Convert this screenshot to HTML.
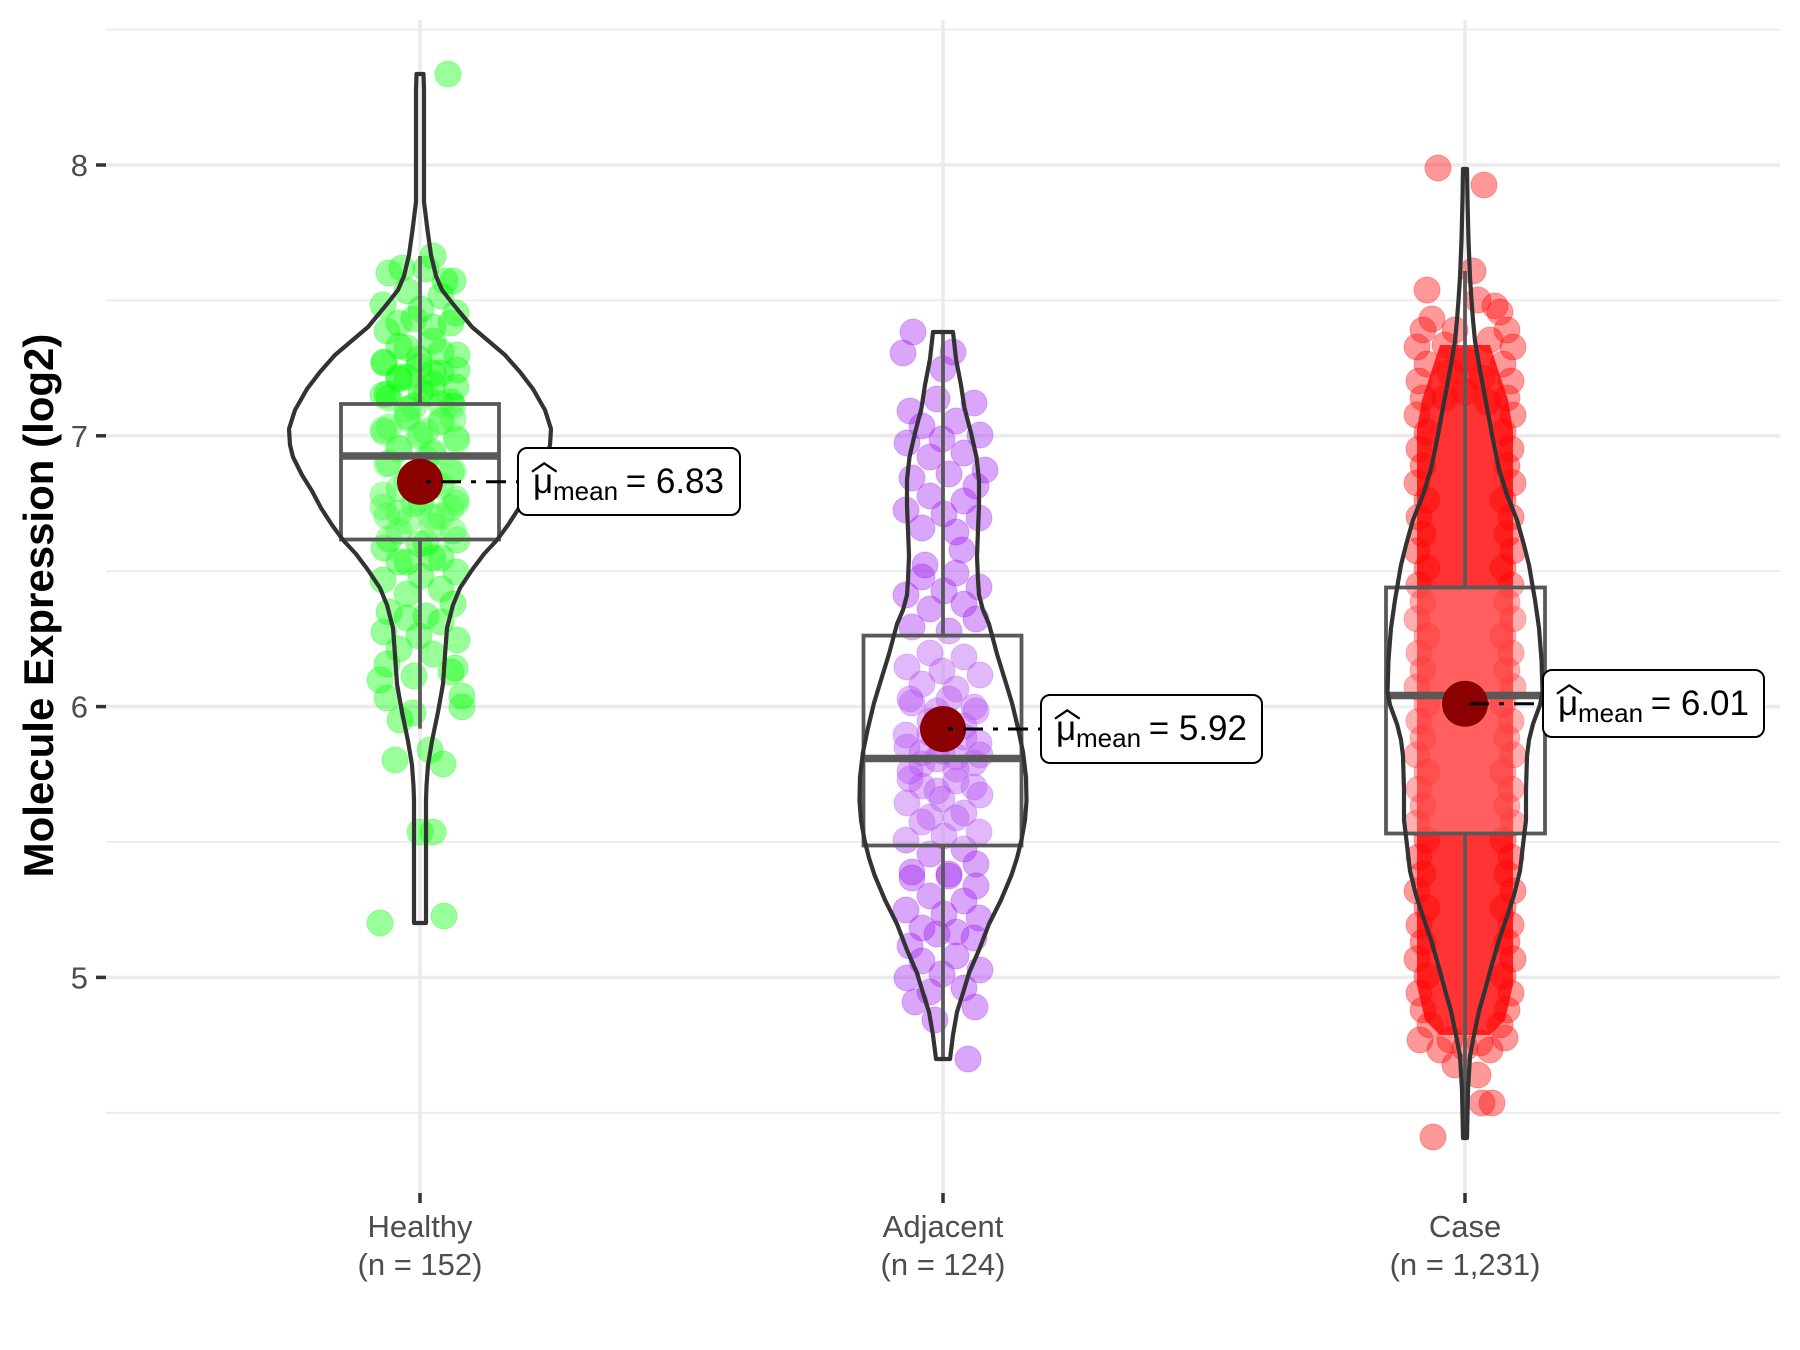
<!DOCTYPE html>
<html>
<head>
<meta charset="utf-8">
<style>
html,body{margin:0;padding:0;background:#fff;}
svg{display:block;}
</style>
</head>
<body>
<svg width="1800" height="1350" viewBox="0 0 1800 1350" xmlns="http://www.w3.org/2000/svg" xmlns:xlink="http://www.w3.org/1999/xlink" font-family="'Liberation Sans', Arial, sans-serif">
<defs>
  <g id="cg" fill="#00FF00" fill-opacity="0.4" stroke="#00FF00" stroke-opacity="0.3" stroke-width="1">
    <circle cx="-31" cy="-27" r="13"/><circle cx="6" cy="-31" r="13"/><circle cx="33" cy="-19" r="13"/>
    <circle cx="-13" cy="-9" r="13"/><circle cx="21" cy="-4" r="13"/><circle cx="-37" cy="5" r="13"/>
    <circle cx="1" cy="9" r="13"/><circle cx="36" cy="13" r="13"/><circle cx="-21" cy="23" r="13"/>
    <circle cx="13" cy="27" r="13"/>
  </g>
  <g id="cp" fill="#A020F0" fill-opacity="0.4" stroke="#A020F0" stroke-opacity="0.3" stroke-width="1">
    <circle cx="-31" cy="-27" r="13"/><circle cx="6" cy="-31" r="13"/><circle cx="33" cy="-19" r="13"/>
    <circle cx="-13" cy="-9" r="13"/><circle cx="21" cy="-4" r="13"/><circle cx="-37" cy="5" r="13"/>
    <circle cx="1" cy="9" r="13"/><circle cx="36" cy="13" r="13"/><circle cx="-21" cy="23" r="13"/>
    <circle cx="13" cy="27" r="13"/>
  </g>
</defs>
<rect width="1800" height="1350" fill="#ffffff"/>
<!-- grid -->
<g stroke="#EBEBEB" fill="none">
  <line x1="106" x2="1780" y1="29.6" y2="29.6" stroke-width="1.8"/>
  <line x1="106" x2="1780" y1="300.4" y2="300.4" stroke-width="1.8"/>
  <line x1="106" x2="1780" y1="571.2" y2="571.2" stroke-width="1.8"/>
  <line x1="106" x2="1780" y1="842" y2="842" stroke-width="1.8"/>
  <line x1="106" x2="1780" y1="1112.8" y2="1112.8" stroke-width="1.8"/>
  <line x1="106" x2="1780" y1="165" y2="165" stroke-width="3.5"/>
  <line x1="106" x2="1780" y1="435.8" y2="435.8" stroke-width="3.5"/>
  <line x1="106" x2="1780" y1="706.6" y2="706.6" stroke-width="3.5"/>
  <line x1="106" x2="1780" y1="977.4" y2="977.4" stroke-width="3.5"/>
  <line x1="420" x2="420" y1="20" y2="1193" stroke-width="3.5"/>
  <line x1="943" x2="943" y1="20" y2="1193" stroke-width="3.5"/>
  <line x1="1465" x2="1465" y1="20" y2="1193" stroke-width="3.5"/>
</g>

<!-- Healthy points -->
<use xlink:href="#cg" href="#cg" transform="translate(420,300)"/>
<use xlink:href="#cg" href="#cg" transform="translate(420,350) scale(-1,1)"/>
<use xlink:href="#cg" href="#cg" transform="translate(420,400) scale(1,-1)"/>
<use xlink:href="#cg" href="#cg" transform="translate(420,445) scale(-1,-1)"/>
<use xlink:href="#cg" href="#cg" transform="translate(420,490)"/>
<use xlink:href="#cg" href="#cg" transform="translate(420,535) scale(-1,1)"/>
<use xlink:href="#cg" href="#cg" transform="translate(420,585) scale(1,-1)"/>
<use xlink:href="#cg" href="#cg" transform="translate(420,645) scale(-1,-1)"/>
<use xlink:href="#cg" href="#cg" transform="translate(420,425)"/>
<use xlink:href="#cg" href="#cg" transform="translate(420,375) scale(-1,-1)"/>
<use xlink:href="#cg" href="#cg" transform="translate(420,512) scale(1,-1)"/>
<g fill="#00FF00" fill-opacity="0.4" stroke="#00FF00" stroke-opacity="0.3" stroke-width="1">
  <circle cx="448" cy="74" r="13"/><circle cx="380" cy="923" r="13"/><circle cx="444" cy="916" r="13"/>
  <circle cx="420" cy="832" r="13"/><circle cx="433" cy="832" r="13"/><circle cx="462" cy="696" r="13"/>
  <circle cx="462" cy="707" r="13"/><circle cx="387" cy="698" r="13"/><circle cx="443" cy="764" r="13"/>
  <circle cx="413" cy="713" r="13"/><circle cx="430" cy="750" r="13"/><circle cx="400" cy="720" r="13"/>
  <circle cx="395" cy="760" r="13"/><circle cx="380" cy="680" r="13"/><circle cx="455" cy="668" r="13"/>
  <circle cx="402" cy="268" r="13"/><circle cx="433" cy="256" r="13"/><circle cx="445" cy="281" r="13"/>
</g>

<!-- Adjacent points -->
<use xlink:href="#cp" href="#cp" transform="translate(943,430) scale(-1,1)"/>
<use xlink:href="#cp" href="#cp" transform="translate(943,505)"/>
<use xlink:href="#cp" href="#cp" transform="translate(943,600) scale(1,-1)"/>
<use xlink:href="#cp" href="#cp" transform="translate(943,680) scale(-1,-1)"/>
<use xlink:href="#cp" href="#cp" transform="translate(943,730)"/>
<use xlink:href="#cp" href="#cp" transform="translate(943,790) scale(-1,1)"/>
<use xlink:href="#cp" href="#cp" transform="translate(943,845) scale(1,-1)"/>
<use xlink:href="#cp" href="#cp" transform="translate(943,905)"/>
<use xlink:href="#cp" href="#cp" transform="translate(943,965) scale(-1,1)"/>
<use xlink:href="#cp" href="#cp" transform="translate(943,760) scale(-1,-1)"/>
<g fill="#A020F0" fill-opacity="0.4" stroke="#A020F0" stroke-opacity="0.3" stroke-width="1">
  <circle cx="913" cy="332" r="13"/><circle cx="903" cy="353" r="13"/><circle cx="953" cy="352" r="13"/>
  <circle cx="943" cy="369" r="13"/><circle cx="968" cy="1059" r="13"/><circle cx="915" cy="1002" r="13"/>
  <circle cx="975" cy="1007" r="13"/><circle cx="935" cy="1020" r="13"/><circle cx="962" cy="550" r="13"/>
  <circle cx="925" cy="565" r="13"/><circle cx="985" cy="470" r="13"/>
</g>

<!-- Case points -->
<path d="M1440,345 L1490,345 L1508,400 L1513,430 L1513,985 L1505,1020 L1490,1035 L1440,1035 L1425,1020 L1417,985 L1417,430 L1422,400 Z" fill="#FF3333"/>
<g fill="#FF0000" fill-opacity="0.4" stroke="#FF0000" stroke-opacity="0.3" stroke-width="1">
  <circle cx="1438" cy="168" r="13"/><circle cx="1484" cy="185" r="13"/><circle cx="1473" cy="271" r="13"/>
  <circle cx="1427" cy="290" r="13"/><circle cx="1432" cy="319" r="13"/><circle cx="1495" cy="306" r="13"/>
  <circle cx="1500" cy="312" r="13"/><circle cx="1478" cy="300" r="13"/><circle cx="1455" cy="330" r="13"/>
  <circle cx="1445" cy="345" r="13"/><circle cx="1490" cy="340" r="13"/><circle cx="1465" cy="360" r="13"/>
  <circle cx="1450" cy="372" r="13"/><circle cx="1482" cy="378" r="13"/><circle cx="1465" cy="392" r="13"/>
  <circle cx="1445" cy="398" r="13"/><circle cx="1488" cy="402" r="13"/>
  <circle cx="1433" cy="1137" r="13"/><circle cx="1482" cy="1103" r="13"/><circle cx="1492" cy="1103" r="13"/>
  <circle cx="1440" cy="1050" r="13"/><circle cx="1490" cy="1050" r="13"/><circle cx="1420" cy="1040" r="13"/>
  <circle cx="1505" cy="1038" r="13"/><circle cx="1455" cy="1065" r="13"/><circle cx="1478" cy="1075" r="13"/>
  <circle cx="1430" cy="1025" r="13"/><circle cx="1450" cy="1040" r="13"/><circle cx="1480" cy="1043" r="13"/>
  <circle cx="1465" cy="1048" r="13"/><circle cx="1500" cy="1025" r="13"/>
  <!-- left edge -->
  <circle cx="1423" cy="330" r="13"/><circle cx="1417" cy="347" r="13"/><circle cx="1427" cy="364" r="13"/>
  <circle cx="1419" cy="381" r="13"/><circle cx="1423" cy="398" r="13"/><circle cx="1417" cy="415" r="13"/>
  <circle cx="1427" cy="432" r="13"/><circle cx="1419" cy="449" r="13"/><circle cx="1423" cy="466" r="13"/>
  <circle cx="1417" cy="483" r="13"/><circle cx="1427" cy="500" r="13"/><circle cx="1419" cy="517" r="13"/>
  <circle cx="1423" cy="534" r="13"/><circle cx="1417" cy="551" r="13"/><circle cx="1427" cy="568" r="13"/>
  <circle cx="1419" cy="585" r="13"/><circle cx="1423" cy="602" r="13"/><circle cx="1417" cy="619" r="13"/>
  <circle cx="1427" cy="636" r="13"/><circle cx="1419" cy="653" r="13"/><circle cx="1423" cy="670" r="13"/>
  <circle cx="1417" cy="687" r="13"/><circle cx="1427" cy="704" r="13"/><circle cx="1419" cy="721" r="13"/>
  <circle cx="1423" cy="738" r="13"/><circle cx="1417" cy="755" r="13"/><circle cx="1427" cy="772" r="13"/>
  <circle cx="1419" cy="789" r="13"/><circle cx="1423" cy="806" r="13"/><circle cx="1417" cy="823" r="13"/>
  <circle cx="1427" cy="840" r="13"/><circle cx="1419" cy="857" r="13"/><circle cx="1423" cy="874" r="13"/>
  <circle cx="1417" cy="891" r="13"/><circle cx="1427" cy="908" r="13"/><circle cx="1419" cy="925" r="13"/>
  <circle cx="1423" cy="942" r="13"/><circle cx="1417" cy="959" r="13"/><circle cx="1427" cy="976" r="13"/>
  <circle cx="1419" cy="993" r="13"/><circle cx="1423" cy="1010" r="13"/>
  <!-- right edge -->
  <circle cx="1507" cy="330" r="13"/><circle cx="1513" cy="347" r="13"/><circle cx="1503" cy="364" r="13"/>
  <circle cx="1511" cy="381" r="13"/><circle cx="1507" cy="398" r="13"/><circle cx="1513" cy="415" r="13"/>
  <circle cx="1503" cy="432" r="13"/><circle cx="1511" cy="449" r="13"/><circle cx="1507" cy="466" r="13"/>
  <circle cx="1513" cy="483" r="13"/><circle cx="1503" cy="500" r="13"/><circle cx="1511" cy="517" r="13"/>
  <circle cx="1507" cy="534" r="13"/><circle cx="1513" cy="551" r="13"/><circle cx="1503" cy="568" r="13"/>
  <circle cx="1511" cy="585" r="13"/><circle cx="1507" cy="602" r="13"/><circle cx="1513" cy="619" r="13"/>
  <circle cx="1503" cy="636" r="13"/><circle cx="1511" cy="653" r="13"/><circle cx="1507" cy="670" r="13"/>
  <circle cx="1513" cy="687" r="13"/><circle cx="1503" cy="704" r="13"/><circle cx="1511" cy="721" r="13"/>
  <circle cx="1507" cy="738" r="13"/><circle cx="1513" cy="755" r="13"/><circle cx="1503" cy="772" r="13"/>
  <circle cx="1511" cy="789" r="13"/><circle cx="1507" cy="806" r="13"/><circle cx="1513" cy="823" r="13"/>
  <circle cx="1503" cy="840" r="13"/><circle cx="1511" cy="857" r="13"/><circle cx="1507" cy="874" r="13"/>
  <circle cx="1513" cy="891" r="13"/><circle cx="1503" cy="908" r="13"/><circle cx="1511" cy="925" r="13"/>
  <circle cx="1507" cy="942" r="13"/><circle cx="1513" cy="959" r="13"/><circle cx="1503" cy="976" r="13"/>
  <circle cx="1511" cy="993" r="13"/><circle cx="1507" cy="1010" r="13"/>
</g>

<!-- boxplots -->
<g stroke="#595959" stroke-width="3.8" fill="none">
  <line x1="420" x2="420" y1="256" y2="404"/>
  <line x1="420" x2="420" y1="539.5" y2="728.6"/>
  <rect x="341" y="404" width="158" height="135.5" fill="#ffffff" fill-opacity="0.22"/>
  <line x1="341" x2="499" y1="456" y2="456" stroke-width="7.5"/>

  <line x1="943" x2="943" y1="332" y2="635.6"/>
  <line x1="943" x2="943" y1="845.5" y2="1059"/>
  <rect x="863.5" y="635.6" width="158" height="209.9" fill="#ffffff" fill-opacity="0.22"/>
  <line x1="863.5" x2="1021.5" y1="758.5" y2="758.5" stroke-width="7.5"/>

  <line x1="1465" x2="1465" y1="271" y2="587.5"/>
  <line x1="1465" x2="1465" y1="833.5" y2="1137"/>
  <rect x="1386" y="587.5" width="159" height="246" fill="#ffffff" fill-opacity="0.22"/>
  <line x1="1386" x2="1545" y1="695.5" y2="695.5" stroke-width="7.5"/>
</g>

<!-- violins -->
<g stroke="#333333" stroke-width="4.2" fill="none" stroke-linejoin="round">
  <path d="M423.5,74 L424,90 L424,202 L427.5,230 L431,255 L436,276 L442,290 L453,304 L472,327 L505,355 L520,372 L533,389 L545,410 L551,429 L550,445 L547,457 L538,475 L528,491 L519,508 L508,525 L497,540 L484,554 L472,570 L460,588 L453,605 L447,628 L445,655 L443,684 L438,712 L432,741 L428,765 L426.5,786 L426,800 L426,923 L414,923 L414,800 L413.5,786 L412,765 L408,741 L402,712 L397,684 L395,655 L393,628 L387,605 L380,588 L368,570 L356,554 L343,540 L332,525 L321,508 L312,491 L302,475 L293,457 L290,445 L289,429 L295,410 L307,389 L320,372 L335,355 L368,327 L387,304 L398,290 L404,276 L409,255 L412.5,230 L416,202 L416,90 L416.5,74 Z"/>
  <path d="M953,332 L956,359 L961,385 L964.5,408 L971,433 L976.5,457 L979,480 L979,506 L978,530 L977,556 L978,580 L979,595 L983,610 L989,624 L997,654 L1005,680 L1012,703 L1018,728 L1023,752 L1026,777 L1026.5,801 L1025,820 L1021.5,840 L1017,858 L1011.5,875 L1001,900 L989,924 L979,950 L969,973 L963,993 L957,1012 L953,1035 L950,1059 L936,1059 L933,1035 L929,1012 L923,993 L917,973 L907,950 L897,924 L885,900 L874.5,875 L869,858 L864.5,840 L861,820 L859.5,801 L860,777 L863,752 L868,728 L874,703 L881,680 L889,654 L897,624 L903,610 L907,595 L908,580 L909,556 L908,530 L907,506 L907,480 L909.5,457 L915,433 L921.5,408 L925,385 L930,359 L933,332 Z"/>
  <path d="M1467,169 L1467.5,200 L1468.5,240 L1470,277 L1471.5,300 L1473,320 L1475,341 L1480,370 L1486.5,405 L1493,440 L1499,469 L1507,495 L1517,520 L1524,545 L1529,565 L1535,600 L1539,628 L1541.5,660 L1542.5,692 L1540,705 L1533,724 L1529,740 L1527,756 L1526,790 L1526,820 L1523,845 L1520,871 L1514,895 L1507.5,915 L1499,940 L1491.5,966 L1485,990 L1479,1011 L1474,1035 L1470,1056 L1468,1090 L1467,1138 L1463,1138 L1462,1090 L1460,1056 L1456,1035 L1451,1011 L1445,990 L1438.5,966 L1431,940 L1422.5,915 L1416,895 L1410,871 L1407,845 L1404,820 L1404,790 L1403,756 L1401,740 L1397,724 L1390,705 L1387.5,692 L1388.5,660 L1391,628 L1395,600 L1401,565 L1406,545 L1413,520 L1423,495 L1431,469 L1437,440 L1443.5,405 L1450,370 L1455,341 L1457,320 L1458.5,300 L1460,277 L1461.5,240 L1462.5,200 L1463,169 Z"/>
</g>

<!-- means -->
<g>
  <circle cx="420" cy="481.8" r="23" fill="#8B0000"/>
  <line x1="426" x2="518" y1="481.8" y2="481.8" stroke="#000" stroke-width="3" stroke-dasharray="5 10 20 10"/>
  <circle cx="943" cy="729" r="23" fill="#8B0000"/>
  <line x1="948" x2="1041" y1="729" y2="729" stroke="#000" stroke-width="3" stroke-dasharray="5 10 20 10"/>
  <circle cx="1465" cy="703.8" r="23" fill="#8B0000"/>
  <line x1="1469" x2="1543" y1="703.8" y2="703.8" stroke="#000" stroke-width="3" stroke-dasharray="20 10 5 10"/>
</g>

<!-- labels -->
<g transform="translate(518,448)">
  <rect x="0" y="0" width="222" height="67" rx="9" ry="9" fill="#fff" stroke="#000" stroke-width="2"/>
  <polyline points="14,23.7 26.2,15.3 38.7,23.7" fill="none" stroke="#000" stroke-width="2.2"/>
  <text x="15" y="45" font-size="35" fill="#000">μ</text>
  <text x="35" y="52" font-size="26" fill="#000">mean</text>
  <text x="206" y="45" font-size="35" fill="#000" text-anchor="end">= 6.83</text>
</g>
<g transform="translate(1041,695)">
  <rect x="0" y="0" width="221" height="68" rx="9" ry="9" fill="#fff" stroke="#000" stroke-width="2"/>
  <polyline points="14,23.7 26.2,15.3 38.7,23.7" fill="none" stroke="#000" stroke-width="2.2"/>
  <text x="15" y="45" font-size="35" fill="#000">μ</text>
  <text x="35" y="52" font-size="26" fill="#000">mean</text>
  <text x="206" y="45" font-size="35" fill="#000" text-anchor="end">= 5.92</text>
</g>
<g transform="translate(1543,670)">
  <rect x="0" y="0" width="221" height="67" rx="9" ry="9" fill="#fff" stroke="#000" stroke-width="2"/>
  <polyline points="14,23.7 26.2,15.3 38.7,23.7" fill="none" stroke="#000" stroke-width="2.2"/>
  <text x="15" y="45" font-size="35" fill="#000">μ</text>
  <text x="35" y="52" font-size="26" fill="#000">mean</text>
  <text x="206" y="45" font-size="35" fill="#000" text-anchor="end">= 6.01</text>
</g>

<!-- axes -->
<g stroke="#333333" stroke-width="3.5">
  <line x1="96" x2="106" y1="165" y2="165"/>
  <line x1="96" x2="106" y1="435.8" y2="435.8"/>
  <line x1="96" x2="106" y1="706.6" y2="706.6"/>
  <line x1="96" x2="106" y1="977.4" y2="977.4"/>
  <line x1="420" x2="420" y1="1193" y2="1203"/>
  <line x1="943" x2="943" y1="1193" y2="1203"/>
  <line x1="1465" x2="1465" y1="1193" y2="1203"/>
</g>
<g font-size="31" fill="#4D4D4D">
  <text x="88" y="176" text-anchor="end">8</text>
  <text x="88" y="447" text-anchor="end">7</text>
  <text x="88" y="717.6" text-anchor="end">6</text>
  <text x="88" y="988.4" text-anchor="end">5</text>
  <text x="420" y="1237" text-anchor="middle">Healthy</text>
  <text x="420" y="1275" text-anchor="middle">(n = 152)</text>
  <text x="943" y="1237" text-anchor="middle">Adjacent</text>
  <text x="943" y="1275" text-anchor="middle">(n = 124)</text>
  <text x="1465" y="1237" text-anchor="middle">Case</text>
  <text x="1465" y="1275" text-anchor="middle">(n = 1,231)</text>
</g>
<text transform="translate(53,605.5) rotate(-90)" text-anchor="middle" font-size="42" font-weight="bold" fill="#000">Molecule Expression (log2)</text>
</svg>
</body>
</html>
